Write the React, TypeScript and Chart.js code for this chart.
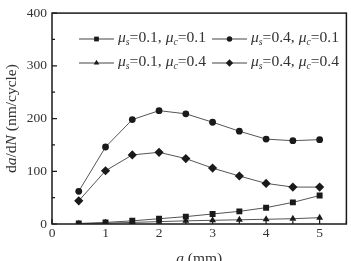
import React, { useEffect, useRef } from "react";
import { Chart, registerables } from "chart.js";

Chart.register(...registerables);

// crack length a (mm)
const crackLength = [0.5, 1, 1.5, 2, 2.5, 3, 3.5, 4, 4.5, 5];
// da/dN (nm/cycle) per friction combination
const rateS01C01 = [1, 3, 6, 10, 14, 19, 24, 31, 41, 54];
const rateS04C01 = [62, 146, 198, 215, 209, 193, 176, 161, 158, 160];
const rateS01C04 = [0.5, 1.5, 3, 4.5, 6, 7, 8, 9, 10, 12];
const rateS04C04 = [44, 101, 131, 136, 124, 106, 91, 77, 70, 70];

const seriesMu = [
  { s: "0.1", c: "0.1" },
  { s: "0.4", c: "0.1" },
  { s: "0.1", c: "0.4" },
  { s: "0.4", c: "0.4" },
];
const markerStyles = ["rect", "circle", "triangle", "rectRot"];
const markerRadius = [4.2, 3.4, 4, 4.6];

const yTicks = [0, 100, 200, 300, 400];
const xTicks = [0, 1, 2, 3, 4, 5];

const FONT = "'Liberation Serif', 'DejaVu Serif', serif";
const TEXT = "#333";
const INK = "#1a1a1a";

type Run = { text: string; italic?: boolean; sub?: boolean };

function runFont(r: Run, size: number) {
  const sz = r.sub ? size * 0.62 : size;
  return `${r.italic ? "italic " : ""}${sz}px ${FONT}`;
}

function measureRuns(ctx: CanvasRenderingContext2D, runs: Run[], size: number) {
  let w = 0;
  for (const r of runs) {
    ctx.font = runFont(r, size);
    w += ctx.measureText(r.text).width;
  }
  return w;
}

function drawRuns(ctx: CanvasRenderingContext2D, runs: Run[], x: number, y: number, size: number) {
  let cx = x;
  ctx.textBaseline = "middle";
  ctx.textAlign = "left";
  for (const r of runs) {
    ctx.font = runFont(r, size);
    ctx.fillText(r.text, cx, r.sub ? y + size * 0.3 : y);
    cx += ctx.measureText(r.text).width;
  }
}

function drawMarker(ctx: CanvasRenderingContext2D, style: string, x: number, y: number, r: number) {
  ctx.beginPath();
  if (style === "rect") {
    const h = r * Math.SQRT1_2;
    ctx.rect(x - h, y - h, 2 * h, 2 * h);
  } else if (style === "circle") {
    ctx.arc(x, y, r, 0, Math.PI * 2);
  } else if (style === "triangle") {
    ctx.moveTo(x, y - r);
    ctx.lineTo(x + r * 0.866, y + r * 0.5);
    ctx.lineTo(x - r * 0.866, y + r * 0.5);
    ctx.closePath();
  } else {
    ctx.moveTo(x, y - r);
    ctx.lineTo(x + r, y);
    ctx.lineTo(x, y + r);
    ctx.lineTo(x - r, y);
    ctx.closePath();
  }
  ctx.fill();
}

const frame = {
  id: "frameAndText",
  afterDraw(chart: any) {
    const ctx: CanvasRenderingContext2D = chart.ctx;
    const { left, right, top, bottom } = chart.chartArea;
    const xs = chart.scales.x;
    const ys = chart.scales.y;
    ctx.save();

    // box
    ctx.strokeStyle = INK;
    ctx.lineWidth = 1.5;
    ctx.strokeRect(left, top, right - left, bottom - top);

    // inward ticks
    ctx.lineWidth = 1.2;
    ctx.beginPath();
    for (let v = 0; v <= 400; v += 50) {
      const py = ys.getPixelForValue(v);
      const len = v % 100 === 0 ? 5 : 3;
      ctx.moveTo(left, py);
      ctx.lineTo(left + len, py);
    }
    for (let v = 0; v <= 5.5; v += 0.5) {
      const px = xs.getPixelForValue(v);
      const len = v % 1 === 0 ? 5 : 3;
      ctx.moveTo(px, bottom);
      ctx.lineTo(px, bottom - len);
    }
    ctx.stroke();

    // legend
    const rowsY = [39, 63];
    const colX = [79, 212];
    seriesMu.forEach((mu, i) => {
      const x0 = colX[i % 2];
      const y0 = rowsY[Math.floor(i / 2)];
      ctx.strokeStyle = "#444";
      ctx.lineWidth = 1;
      ctx.beginPath();
      ctx.moveTo(x0, y0);
      ctx.lineTo(x0 + 35, y0);
      ctx.stroke();
      ctx.fillStyle = INK;
      drawMarker(ctx, markerStyles[i], x0 + 17.5, y0, markerRadius[i] * 0.8);
      ctx.fillStyle = TEXT;
      const runs: Run[] = [
        { text: "\u03bc", italic: true },
        { text: "s", italic: true, sub: true },
        { text: `=${mu.s}, ` },
        { text: "\u03bc", italic: true },
        { text: "c", italic: true, sub: true },
        { text: `=${mu.c}` },
      ];
      drawRuns(ctx, runs, x0 + 39, y0 - 1, 15.6);
    });

    // x title
    const xRuns: Run[] = [{ text: "a", italic: true }, { text: " (mm)" }];
    const xw = measureRuns(ctx, xRuns, 15.5);
    drawRuns(ctx, xRuns, (left + right) / 2 - xw / 2, 259, 15.5);

    // y title
    const yRuns: Run[] = [
      { text: "d" },
      { text: "a", italic: true },
      { text: "/d" },
      { text: "N", italic: true },
      { text: " (nm/cycle)" },
    ];
    const yw = measureRuns(ctx, yRuns, 15.5);
    ctx.translate(12, (top + bottom) / 2);
    ctx.rotate(-Math.PI / 2);
    drawRuns(ctx, yRuns, -yw / 2, 0, 15.5);
    ctx.restore();
  },
};

export default function App() {
  const ref = useRef<HTMLCanvasElement>(null);

  useEffect(() => {
    document.body.style.margin = "0";
    const series = [rateS01C01, rateS04C01, rateS01C04, rateS04C04];
    const chart = new Chart(ref.current!, {
      type: "line",
      data: {
        datasets: series.map((vals, i) => ({
          label: `${seriesMu[i].s}-${seriesMu[i].c}`,
          data: crackLength.map((a, k) => ({ x: a, y: vals[k] })),
          borderColor: "#555",
          borderWidth: 1,
          pointStyle: markerStyles[i] as any,
          pointRadius: markerRadius[i],
          pointBackgroundColor: INK,
          pointBorderColor: INK,
          pointBorderWidth: 0,
          tension: 0,
        })),
      },
      options: {
        animation: false,
        responsive: false,
        layout: { padding: { top: 9, right: 1, left: 0, bottom: 0 } },
        plugins: { legend: { display: false }, tooltip: { enabled: false } },
        scales: {
          x: {
            type: "linear",
            min: 0,
            max: 5.5,
            afterFit: (s: any) => {
              s.height = 37;
            },
            afterBuildTicks: (s: any) => {
              s.ticks = xTicks.map((v) => ({ value: v }));
            },
            grid: { display: false, drawTicks: false },
            border: { display: false },
            ticks: {
              color: TEXT,
              font: { family: FONT, size: 13.5 },
              padding: 1,
              maxRotation: 0,
            },
          },
          y: {
            min: 0,
            max: 400,
            afterFit: (s: any) => {
              s.width = 52;
            },
            afterBuildTicks: (s: any) => {
              s.ticks = yTicks.map((v) => ({ value: v }));
            },
            grid: { display: false, drawTicks: false },
            border: { display: false },
            ticks: {
              color: TEXT,
              font: { family: FONT, size: 13.5 },
              padding: 5,
            },
          },
        },
      },
      plugins: [frame],
    });
    return () => chart.destroy();
  }, []);

  return (
    <div style={{ position: "absolute", left: 0, top: 0, width: 351, height: 261, background: "#fff" }}>
      <canvas ref={ref} width={351} height={261} style={{ width: 351, height: 261 }} />
    </div>
  );
}
